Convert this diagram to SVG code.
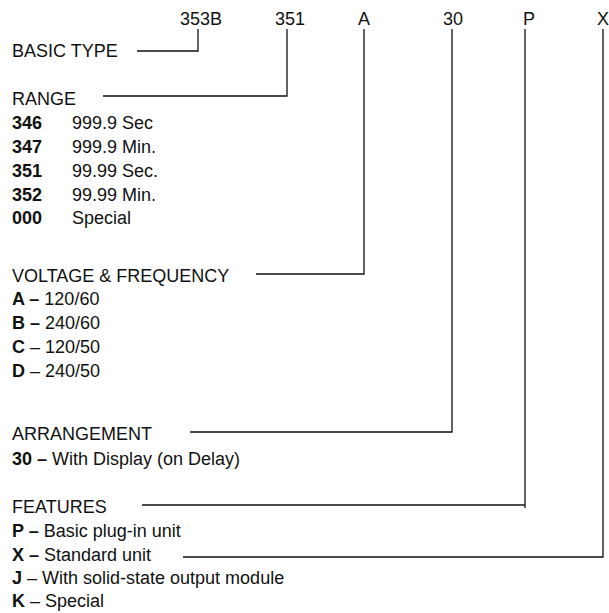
<svg xmlns="http://www.w3.org/2000/svg" width="609" height="613" viewBox="0 0 609 613">
<style>
text{font-family:"Liberation Sans",Arial,sans-serif;font-size:18px;fill:#111}
.b{font-weight:bold}
.c{fill:none;stroke:#111;stroke-width:1.3}
</style>
<rect width="609" height="613" fill="#fff"/>
<g id="code-353B"><text x="180" y="25">353B</text></g>
<g id="code-351"><text x="275" y="25">351</text></g>
<g id="code-A"><text x="358" y="25">A</text></g>
<g id="code-30"><text x="443" y="25">30</text></g>
<g id="code-P"><text x="523" y="25">P</text></g>
<g id="code-X"><text x="597" y="25">X</text></g>
<g id="basic-type"><text x="12" y="57">BASIC TYPE</text></g>
<g id="range">
<text x="12" y="105">RANGE</text>
<text x="12" y="129" class="b">346</text><text x="72" y="129">999.9 Sec</text>
<text x="12" y="153" class="b">347</text><text x="72" y="153">999.9 Min.</text>
<text x="12" y="177" class="b">351</text><text x="72" y="177">99.99 Sec.</text>
<text x="12" y="201" class="b">352</text><text x="72" y="201">99.99 Min.</text>
<text x="12" y="224" class="b">000</text><text x="72" y="224">Special</text>
</g>
<g id="voltage">
<text x="12" y="282">VOLTAGE &amp; FREQUENCY</text>
<text x="12" y="305"><tspan class="b">A –</tspan> 120/60</text>
<text x="12" y="329"><tspan class="b">B –</tspan> 240/60</text>
<text x="12" y="353"><tspan class="b">C</tspan> – 120/50</text>
<text x="12" y="377"><tspan class="b">D</tspan> – 240/50</text>
</g>
<g id="arrangement">
<text x="12" y="440">ARRANGEMENT</text>
<text x="12" y="465"><tspan class="b">30 –</tspan> With Display (on Delay)</text>
</g>
<g id="features">
<text x="12" y="513">FEATURES</text>
<text x="12" y="537"><tspan class="b">P –</tspan> Basic plug-in unit</text>
<text x="12" y="561"><tspan class="b">X –</tspan> Standard unit</text>
<text x="12" y="584"><tspan class="b">J</tspan> – With solid-state output module</text>
<text x="12" y="607"><tspan class="b">K</tspan> – Special</text>
</g>
<g id="connectors">
<polyline class="c" points="137,51 198,51 198,29"/>
<polyline class="c" points="103,96 287,96 287,29"/>
<polyline class="c" points="256,274 364,274 364,29"/>
<polyline class="c" points="190,432 452,432 452,29"/>
<polyline class="c" points="142,505 525,505"/>
<line class="c" x1="525" y1="29" x2="525" y2="508"/>
<polyline class="c" points="183,557 603,557 603,29"/>
</g>
</svg>
